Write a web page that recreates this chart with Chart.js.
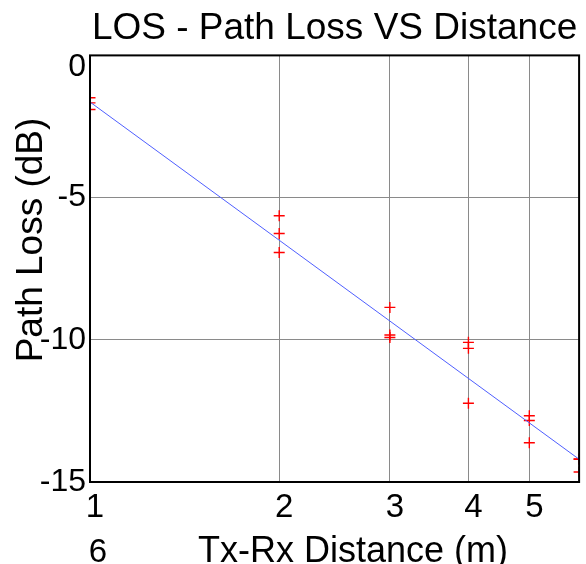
<!DOCTYPE html>
<html>
<head>
<meta charset="utf-8">
<script src="https://cdn.jsdelivr.net/npm/chart.js@4.4.1/dist/chart.umd.min.js"></script>
<style>
html, body { margin: 0; padding: 0; background: #fff; }
</style>
</head>
<body>
<canvas id="lossChart" width="586" height="564"></canvas>
<script>
const distances = [1, 1, 1, 2, 2, 2, 3, 3, 3, 4, 4, 4, 5, 5, 5, 6, 6, 6];
const measuredLoss = [-1.49, -1.67, -1.9, -5.64, -6.26, -6.93, -8.86, -9.83, -9.92, -10.09, -10.3, -12.23, -12.67, -12.84, -13.62, -14.19, -14.2, -14.65];
const fitDistance = [1, 6];
const fitLoss = [-1.64, -14.2];
const xTicks = [1, 2, 3, 4, 5];
const yTicks = [0, -5, -10, -15];

const FONT = "'Liberation Sans', Arial, Helvetica, sans-serif";

// box around the axes plus the axis titles
const frame = {
    id: "frame",
    afterDraw(chart) {
        const { ctx, chartArea: a } = chart;
        ctx.save();
        ctx.strokeStyle = "#000";
        ctx.lineWidth = 2;
        ctx.strokeRect(a.left, a.top, a.right - a.left, a.bottom - a.top);

        ctx.fillStyle = "#000";
        ctx.textAlign = "center";
        ctx.textBaseline = "alphabetic";
        ctx.font = "36px " + FONT;
        ctx.fillText("Tx-Rx Distance (m)", 353, 562);
        ctx.font = "33px " + FONT;
        ctx.fillText("6", 98, 562);

        ctx.font = "37px " + FONT;
        ctx.translate(42, 240);
        ctx.rotate(-Math.PI / 2);
        ctx.fillText("Path Loss (dB)", 0, 0);
        ctx.restore();
    }
};

new Chart(document.getElementById("lossChart"), {
    type: "scatter",
    data: {
        datasets: [{
            label: "Fit",
            data: fitDistance.map((d, i) => ({ x: d, y: fitLoss[i] })),
            showLine: true,
            borderColor: "#4f5fff",
            borderWidth: 1,
            pointRadius: 0,
            order: 0
        }, {
            label: "Measured",
            data: distances.map((d, i) => ({ x: d, y: measuredLoss[i] })),
            pointStyle: "cross",
            pointRadius: 5.5,
            borderColor: "#ff0000",
            borderWidth: 1.4,
            order: 1
        }]
    },
    options: {
        responsive: false,
        animation: false,
        layout: { padding: { right: 3 } },
        plugins: {
            legend: { display: false },
            tooltip: { enabled: false },
            title: {
                display: true,
                text: "LOS - Path Loss VS Distance",
                color: "#000",
                fullSize: false,
                font: { family: FONT, size: 37, weight: "normal", lineHeight: 1.2 },
                padding: { top: 7, bottom: 4 }
            }
        },
        scales: {
            x: {
                type: "logarithmic",
                min: 1,
                max: 6,
                afterBuildTicks: (scale) => {
                    scale.ticks = xTicks.map(v => ({ value: v }));
                },
                afterFit: (scale) => { scale.height = 82; },
                border: { display: false },
                grid: { color: "#8a8a8a", lineWidth: 1, drawTicks: false },
                ticks: {
                    color: "#000",
                    padding: 6,
                    labelOffset: 5,
                    maxRotation: 0,
                    autoSkip: false,
                    font: { family: FONT, size: 33 },
                    callback: (v) => String(v)
                }
            },
            y: {
                min: -15,
                max: 0,
                afterBuildTicks: (scale) => {
                    scale.ticks = yTicks.map(v => ({ value: v }));
                },
                afterFit: (scale) => { scale.width = 90; },
                border: { display: false },
                grid: { color: "#8a8a8a", lineWidth: 1, drawTicks: false },
                ticks: {
                    color: "#000",
                    padding: 4,
                    font: (c) => ({
                        family: FONT,
                        size: 32,
                        lineHeight: c.tick && c.tick.value === 0 ? 0.75 : 1.2
                    }),
                    callback: (v) => v === 0 ? ["", "0"] : String(v)
                }
            }
        }
    },
    plugins: [frame]
});
</script>
</body>
</html>
